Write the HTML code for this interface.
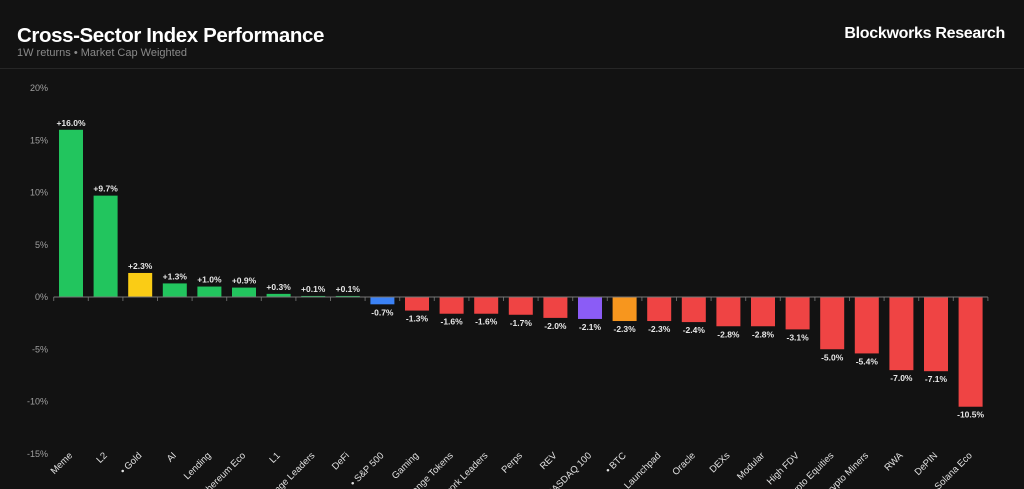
<!DOCTYPE html>
<html><head><meta charset="utf-8"><style>
html,body{margin:0;padding:0;background:#121212;}
body{width:1024px;height:489px;overflow:hidden;position:relative;font-family:"Liberation Sans",sans-serif;}
#title{position:absolute;left:17px;top:24px;font-size:20.5px;font-weight:bold;color:#fff;letter-spacing:-0.4px;}
#subtitle{position:absolute;left:17px;top:47px;font-size:11px;color:#8a8a8a;}
#brand{position:absolute;right:19px;top:25px;font-size:16px;font-weight:bold;color:#fff;letter-spacing:-0.3px;}
#divider{position:absolute;left:0;top:68px;width:1024px;height:1px;background:#262626;}
svg{position:absolute;left:0;top:0;overflow:hidden;}
</style></head><body>
<div id="title">Cross-Sector Index Performance</div>
<div id="subtitle">1W returns • Market Cap Weighted</div>
<div id="brand">Blockworks Research</div>
<div id="divider"></div>
<svg id="chart" width="1024" height="489"></svg>
<script>
const categories=["Meme","L2","• Gold","AI","Lending","Ethereum Eco","L1","Exchange Leaders","DeFi","• S&P 500","Gaming","Exchange Tokens","Network Leaders","Perps","REV","• NASDAQ 100","• BTC","Launchpad","Oracle","DEXs","Modular","High FDV","Crypto Equities","Crypto Miners","RWA","DePIN","Solana Eco"];
const values=[16.0,9.7,2.3,1.3,1.0,0.9,0.3,0.1,0.1,-0.7,-1.3,-1.6,-1.6,-1.7,-2.0,-2.1,-2.3,-2.3,-2.4,-2.8,-2.8,-3.1,-5.0,-5.4,-7.0,-7.1,-10.5];
const barColors=["#22c55e","#22c55e","#facc15","#22c55e","#22c55e","#22c55e","#22c55e","#22c55e","#22c55e","#3b82f6","#ef4444","#ef4444","#ef4444","#ef4444","#ef4444","#8b5cf6","#f7961e","#ef4444","#ef4444","#ef4444","#ef4444","#ef4444","#ef4444","#ef4444","#ef4444","#ef4444","#ef4444"];
const yTicks=[20,15,10,5,0,-5,-10,-15];
const NS="http://www.w3.org/2000/svg";
const svg=document.getElementById('chart');
const x0=53.7,band=34.6,barW=24;
function y(v){return 297-v*10.45;}
function xc(i){return x0+band*(i+0.5);}
function mk(t,a,p){const e=document.createElementNS(NS,t);for(const k in a)e.setAttribute(k,a[k]);(p||svg).appendChild(e);return e;}
yTicks.forEach(t=>{
  const tx=mk('text',{x:48,y:y(t)+3,'text-anchor':'end','font-size':9,fill:'#a0a0a0','font-family':'Liberation Sans, sans-serif'});
  
  
  tx.textContent=t+'%';
});
categories.forEach((c,i)=>{
  const v=values[i],cx=xc(i);
  const r=mk('rect',{x:cx-barW/2,y:Math.min(y(v),y(0)),width:barW,height:Math.abs(y(v)-y(0)),fill:barColors[i]});
  
  
  const lbl=mk('text',{x:cx,y:v>=0?y(v)-4:y(v)+11,'text-anchor':'middle','font-size':8.5,'font-weight':'bold',fill:'#e8e8e8','font-family':'Liberation Sans, sans-serif'});
  
  
  lbl.textContent=(v>0?'+':'')+v.toFixed(1)+'%';
  const xl=mk('text',{x:cx+2,y:456,'text-anchor':'end','font-size':9.5,fill:'#e0e0e0',transform:'rotate(-45 '+(cx+2)+' 456)','font-family':'Liberation Sans, sans-serif'});
  
  
  xl.textContent=c;
});
for(let i=0;i<=categories.length;i++){
  const t=mk('line',{x1:x0+band*i,x2:x0+band*i,y1:y(0),y2:y(0)+4,stroke:'#666','stroke-width':1});
  
  
}
const zl=mk('line',{x1:x0,x2:x0+band*categories.length,y1:y(0),y2:y(0),stroke:'#777','stroke-width':1});


</script>
</body></html>
